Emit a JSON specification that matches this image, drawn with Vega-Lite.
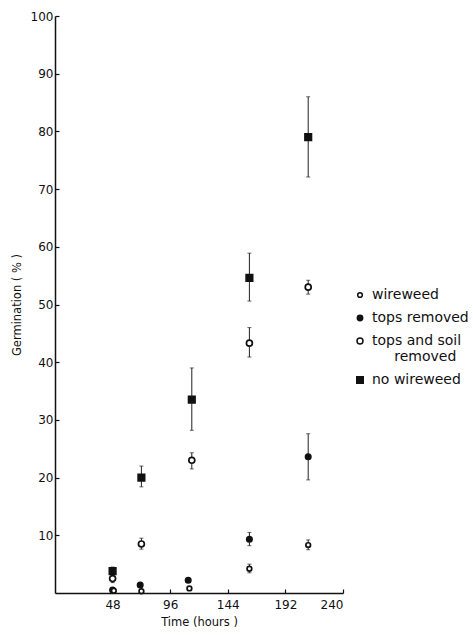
{
  "$schema": "https://vega.github.io/schema/vega-lite/v6.json",
  "width": 288,
  "height": 577,
  "autosize": "none",
  "padding": {"left": 55, "top": 16, "right": 130, "bottom": 42},
  "background": "white",
  "config": {
    "view": {"stroke": null},
    "font": "DejaVu Sans",
    "axis": {
      "domainColor": "#111",
      "domainWidth": 1.5,
      "tickColor": "#111",
      "tickWidth": 1.2,
      "tickSize": -4,
      "labelColor": "#111",
      "labelFont": "DejaVu Sans",
      "labelFontSize": 12,
      "titleColor": "#111",
      "titleFont": "DejaVu Sans",
      "titleFontWeight": "normal",
      "titleFontSize": 11.5,
      "grid": false
    },
    "legend": {
      "labelFont": "DejaVu Sans",
      "labelFontSize": 14,
      "labelColor": "#111",
      "orient": "none",
      "legendX": 298,
      "legendY": 272,
      "rowPadding": 9,
      "labelOffset": 5,
      "title": null
    }
  },
  "data": {
    "values": [
      {"g": "no wireweed", "t": 48, "y": 3.8, "lo": 3.2, "hi": 4.5},
      {"g": "no wireweed", "t": 72, "y": 20, "lo": 18.4, "hi": 22},
      {"g": "no wireweed", "t": 114, "y": 33.5, "lo": 28.2, "hi": 39},
      {"g": "no wireweed", "t": 162, "y": 54.6, "lo": 50.6, "hi": 58.9},
      {"g": "no wireweed", "t": 211, "y": 79, "lo": 72.1, "hi": 86},
      {"g": "tops and soil removed", "t": 48, "y": 2.5, "lo": 1.8, "hi": 3.2},
      {"g": "tops and soil removed", "t": 72, "y": 8.5, "lo": 7.6, "hi": 9.5},
      {"g": "tops and soil removed", "t": 114, "y": 23, "lo": 21.5, "hi": 24.3},
      {"g": "tops and soil removed", "t": 162, "y": 43.3, "lo": 40.9, "hi": 46},
      {"g": "tops and soil removed", "t": 211, "y": 53, "lo": 51.8, "hi": 54.2},
      {"g": "tops removed", "t": 48, "y": 0.5, "lo": null, "hi": null},
      {"g": "tops removed", "t": 71, "y": 1.4, "lo": 1.1, "hi": 1.8},
      {"g": "tops removed", "t": 111, "y": 2.2, "lo": 1.9, "hi": 2.6},
      {"g": "tops removed", "t": 162, "y": 9.3, "lo": 8.2, "hi": 10.5},
      {"g": "tops removed", "t": 211, "y": 23.6, "lo": 19.6, "hi": 27.6},
      {"g": "wireweed", "t": 49, "y": 0.4, "lo": null, "hi": null},
      {"g": "wireweed", "t": 72, "y": 0.3, "lo": null, "hi": null},
      {"g": "wireweed", "t": 112, "y": 0.8, "lo": null, "hi": null},
      {"g": "wireweed", "t": 162, "y": 4.2, "lo": 3.5, "hi": 5},
      {"g": "wireweed", "t": 211, "y": 8.3, "lo": 7.5, "hi": 9.2}
    ]
  },
  "layer": [
    {
      "mark": {"type": "rule", "color": "#222", "strokeWidth": 1},
      "encoding": {
        "x": {"field": "t", "type": "quantitative", "scale": {"domain": [0, 240], "nice": false},
          "axis": {"values": [48, 96, 144, 192, 240], "title": "Time (hours )", "labelPadding": 10, "titlePadding": 6}},
        "y": {"field": "lo", "type": "quantitative", "scale": {"domain": [0, 100], "nice": false},
          "axis": {"values": [10, 20, 30, 40, 50, 60, 70, 80, 90, 100], "title": "Germination ( % )", "labelPadding": 6, "titlePadding": 8}},
        "y2": {"field": "hi"}
      }
    },
    {
      "mark": {"type": "tick", "orient": "horizontal", "size": 4, "thickness": 1, "color": "#222"},
      "encoding": {
        "x": {"field": "t", "type": "quantitative"},
        "y": {"field": "lo", "type": "quantitative"}
      }
    },
    {
      "mark": {"type": "tick", "orient": "horizontal", "size": 4, "thickness": 1, "color": "#222"},
      "encoding": {
        "x": {"field": "t", "type": "quantitative"},
        "y": {"field": "hi", "type": "quantitative"}
      }
    },
    {
      "mark": {"type": "point", "stroke": "#111", "strokeWidth": 1.7, "opacity": 1, "filled": false},
      "encoding": {
        "x": {"field": "t", "type": "quantitative"},
        "y": {"field": "y", "type": "quantitative"},
        "shape": {"field": "g", "type": "nominal",
          "scale": {"domain": ["wireweed", "tops removed", "tops and soil removed", "no wireweed"], "range": ["circle", "circle", "circle", "square"]},
          "legend": {"labelExpr": "datum.label == 'tops and soil removed' ? ['tops and soil', '\u200b\u00a0\u00a0\u00a0\u00a0\u00a0removed'] : datum.label"}},
        "fill": {"field": "g", "type": "nominal",
          "scale": {"domain": ["wireweed", "tops removed", "tops and soil removed", "no wireweed"], "range": ["white", "#111", "white", "#111"]},
          "legend": {"labelExpr": "datum.label == 'tops and soil removed' ? ['tops and soil', '\u200b\u00a0\u00a0\u00a0\u00a0\u00a0removed'] : datum.label"}},
        "size": {"field": "g", "type": "nominal",
          "scale": {"domain": ["wireweed", "tops removed", "tops and soil removed", "no wireweed"], "range": [22, 42, 42, 45]},
          "legend": {"labelExpr": "datum.label == 'tops and soil removed' ? ['tops and soil', '\u200b\u00a0\u00a0\u00a0\u00a0\u00a0removed'] : datum.label"}}
      }
    }
  ]
}
